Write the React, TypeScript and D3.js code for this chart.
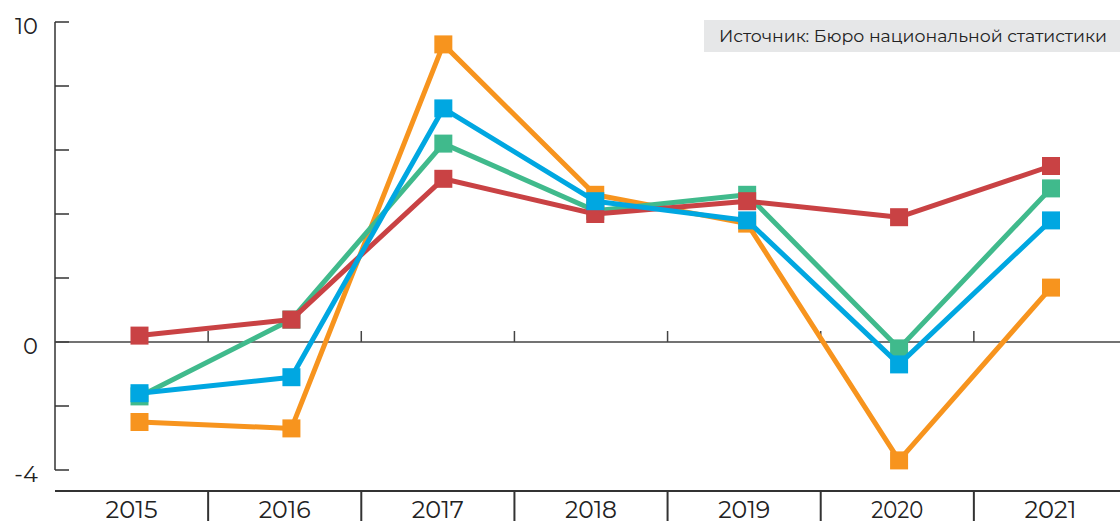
import React from "react";
import * as d3 from "d3";

const years = ["2015", "2016", "2017", "2018", "2019", "2020", "2021"];
const redValues = [0.2, 0.7, 5.1, 4.0, 4.4, 3.9, 5.5];
const greenValues = [-1.7, 0.7, 6.2, 4.1, 4.6, -0.2, 4.8];
const blueValues = [-1.6, -1.1, 7.3, 4.4, 3.8, -0.7, 3.8];
const orangeValues = [-2.5, -2.7, 9.3, 4.6, 3.7, -3.7, 1.7];
const yTicks = [-4, -2, 0, 2, 4, 6, 8, 10];
const yTickLabels = ["-4", "0", "10"];
const sourceText = "Источник: Бюро национальной статистики";

const series = [
  { name: "orange", values: orangeValues, color: "#F7941E" },
  { name: "green", values: greenValues, color: "#40BA8C" },
  { name: "red", values: redValues, color: "#C94244" },
  { name: "blue", values: blueValues, color: "#00A7E1" },
];

const W = 1120;
const H = 521;
const FONT = "Montserrat, 'Noto Sans', 'Open Sans', sans-serif";

export default function App() {
  const y = d3.scaleLinear().domain([-4, 10]).range([470, 22]);
  const band = d3.scaleBand().domain(years).range([55, 1127]);
  const xp = d3.scalePoint().domain(years).range([139.5, 1051]);
  const line = d3
    .line<number>()
    .x((_, i) => xp(years[i]) as number)
    .y((d) => y(d));
  const axisColor = "#333";
  const m = 18;

  return (
    <svg
      width={W}
      height={H}
      style={{ position: "absolute", left: 0, top: 0, display: "block" }}
      fontFamily={FONT}
    >
      <rect x={0} y={0} width={W} height={H} fill="#fff" />
      {/* source box */}
      <rect x={704} y={20} width={416} height={32} fill="#E6E7E8" />
      <text x={719} y={42} fontSize={16.2} fill="#222" textLength={388} lengthAdjust="spacingAndGlyphs">
        {sourceText}
      </text>
      {/* y axis */}
      <line x1={55} x2={55} y1={y(10)} y2={y(-4)} stroke={axisColor} strokeWidth={1.5} />
      {yTicks.map((t) => (
        <line key={t} x1={55} x2={69} y1={y(t)} y2={y(t)} stroke={axisColor} strokeWidth={1.5} />
      ))}
      {yTickLabels.map((t) => (
        <text key={t} x={38} y={y(+t) + 11.5} textAnchor="end" fontSize={22.5} fill="#222">
          {t}
        </text>
      ))}
      {/* zero line */}
      <line x1={55} x2={W} y1={y(0)} y2={y(0)} stroke="#444" strokeWidth={1.5} />
      {years.slice(1).map((yr) => (
        <line
          key={"zt" + yr}
          x1={band(yr) as number}
          x2={band(yr) as number}
          y1={y(0) - 11}
          y2={y(0)}
          stroke="#444"
          strokeWidth={1.5}
        />
      ))}
      {/* bottom category axis */}
      <line x1={55} x2={W} y1={491} y2={491} stroke={axisColor} strokeWidth={2} />
      {years.slice(1).map((yr) => (
        <line
          key={"bt" + yr}
          x1={band(yr) as number}
          x2={band(yr) as number}
          y1={491}
          y2={H}
          stroke={axisColor}
          strokeWidth={2}
        />
      ))}
      {years.map((yr) => (
        <text
          key={"bl" + yr}
          x={(band(yr) as number) + band.bandwidth() / 2}
          y={517.5}
          textAnchor="middle"
          fontSize={23.5}
          fill="#222"
          textLength={52}
          lengthAdjust="spacingAndGlyphs"
        >
          {yr}
        </text>
      ))}
      {/* series */}
      {series.map((s) => (
        <g key={s.name}>
          <path d={line(s.values) || ""} fill="none" stroke={s.color} strokeWidth={5} strokeLinejoin="round" />
          {s.values.map((v, i) => (
            <rect
              key={i}
              x={(xp(years[i]) as number) - m / 2}
              y={y(v) - m / 2}
              width={m}
              height={m}
              fill={s.color}
            />
          ))}
        </g>
      ))}
    </svg>
  );
}
